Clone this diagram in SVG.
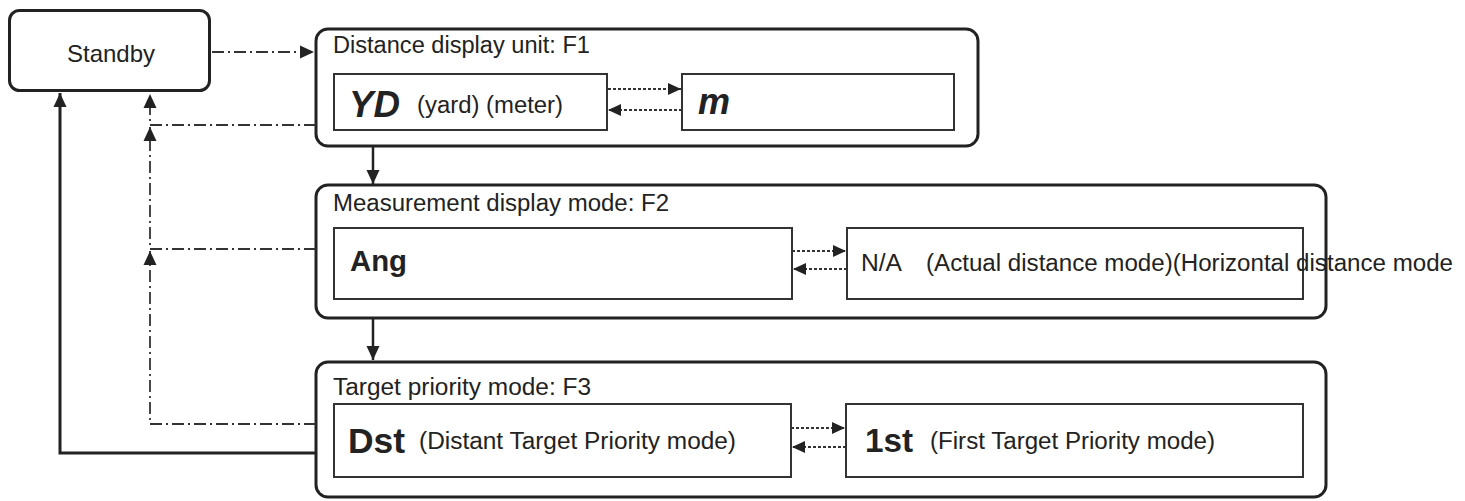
<svg xmlns="http://www.w3.org/2000/svg" width="1465" height="501" viewBox="0 0 1465 501">
<defs>
<style>
.outer{fill:#fff;stroke:#222;stroke-width:3}
.inner{fill:#fff;stroke:#333;stroke-width:2}
.t{font-family:"Liberation Sans",Arial,sans-serif;font-size:23px;fill:#222}
.b{font-family:"Liberation Sans",Arial,sans-serif;font-weight:bold;fill:#222}
.bi{font-family:"Liberation Sans",Arial,sans-serif;font-weight:bold;font-style:italic;font-size:36px;fill:#222}
.solid{fill:none;stroke:#222;stroke-width:3}
.down{fill:none;stroke:#222;stroke-width:2.5}
.dd{fill:none;stroke:#333;stroke-width:1.8;stroke-dasharray:12 4 2 4}
.dot{fill:none;stroke:#333;stroke-width:2;stroke-dasharray:3 2}
</style>
<marker id="ah" viewBox="0 0 14 14" refX="14" refY="7" markerWidth="14" markerHeight="14" markerUnits="userSpaceOnUse" orient="auto">
<path d="M0,0.5 L14,7 L0,13.5 z" fill="#222"/>
</marker>
<marker id="ahs" viewBox="0 0 13 13" refX="13" refY="6.5" markerWidth="13" markerHeight="13" markerUnits="userSpaceOnUse" orient="auto">
<path d="M0,0.5 L13,6.5 L0,12.5 z" fill="#222"/>
</marker>
</defs>
<rect width="1465" height="501" fill="#fff"/>

<g id="standby">
<rect class="outer" x="9.5" y="10.5" width="200" height="80" rx="10"/>
<text class="t" x="111" y="62" text-anchor="middle" style="font-size:24px">Standby</text>
</g>

<g id="f1">
<rect class="outer" x="316" y="29" width="662" height="117" rx="12"/>
<text class="t" x="333" y="53" textLength="257" lengthAdjust="spacingAndGlyphs">Distance display unit: F1</text>
</g>
<g id="f1-yd">
<rect class="inner" x="334" y="74" width="273" height="56"/>
<text class="bi" x="349" y="117" textLength="51" lengthAdjust="spacingAndGlyphs">YD</text>
<text class="t" x="417" y="113" textLength="146" lengthAdjust="spacingAndGlyphs">(yard) (meter)</text>
</g>
<g id="f1-m">
<rect class="inner" x="682" y="74" width="272" height="56"/>
<text class="bi" x="698" y="114">m</text>
</g>

<g id="f2">
<rect class="outer" x="316" y="185" width="1010" height="133" rx="12"/>
<text class="t" x="333" y="211" textLength="336" lengthAdjust="spacingAndGlyphs">Measurement display mode: F2</text>
</g>
<g id="f2-ang">
<rect class="inner" x="334" y="228" width="458" height="71"/>
<text class="b" x="350" y="271" style="font-size:29px" textLength="57" lengthAdjust="spacingAndGlyphs">Ang</text>
</g>
<g id="f2-na">
<rect class="inner" x="847" y="228" width="456" height="71"/>
<text class="t" x="861" y="271" textLength="41" lengthAdjust="spacingAndGlyphs">N/A</text>
<text class="t" x="926" y="271" textLength="527" lengthAdjust="spacingAndGlyphs">(Actual distance mode)(Horizontal distance mode</text>
</g>

<g id="f3">
<rect class="outer" x="316" y="362" width="1010" height="135" rx="12"/>
<text class="t" x="333" y="395" textLength="258" lengthAdjust="spacingAndGlyphs">Target priority mode: F3</text>
</g>
<g id="f3-dst">
<rect class="inner" x="334" y="404" width="457" height="73"/>
<text class="b" x="348" y="453" style="font-size:35px" textLength="57" lengthAdjust="spacingAndGlyphs">Dst</text>
<text class="t" x="419" y="449" textLength="317" lengthAdjust="spacingAndGlyphs">(Distant Target Priority mode)</text>
</g>
<g id="f3-1st">
<rect class="inner" x="846" y="404" width="457" height="73"/>
<text class="b" x="865" y="452" style="font-size:34px" textLength="48" lengthAdjust="spacingAndGlyphs">1st</text>
<text class="t" x="930" y="449" textLength="285" lengthAdjust="spacingAndGlyphs">(First Target Priority mode)</text>
</g>

<g id="connectors">
<path class="dd" d="M212,52 H314" marker-end="url(#ah)"/>
<path class="dd" d="M316,125 H150 V94" marker-end="url(#ah)"/>
<path class="dd" d="M316,249 H150 V127" marker-end="url(#ah)"/>
<path class="dd" d="M316,424 H150 V251" marker-end="url(#ah)"/>
<path class="solid" d="M316,453 H60 V93" marker-end="url(#ah)"/>
<path class="down" d="M373,147 V184" marker-end="url(#ah)"/>
<path class="down" d="M373,319 V360" marker-end="url(#ah)"/>
<path class="dot" d="M608,89 H681" marker-end="url(#ahs)"/>
<path class="dot" d="M682,110 H608" marker-end="url(#ahs)"/>
<path class="dot" d="M792,251 H846" marker-end="url(#ahs)"/>
<path class="dot" d="M847,269 H793" marker-end="url(#ahs)"/>
<path class="dot" d="M791,428 H845" marker-end="url(#ahs)"/>
<path class="dot" d="M846,447 H792" marker-end="url(#ahs)"/>
</g>
</svg>
